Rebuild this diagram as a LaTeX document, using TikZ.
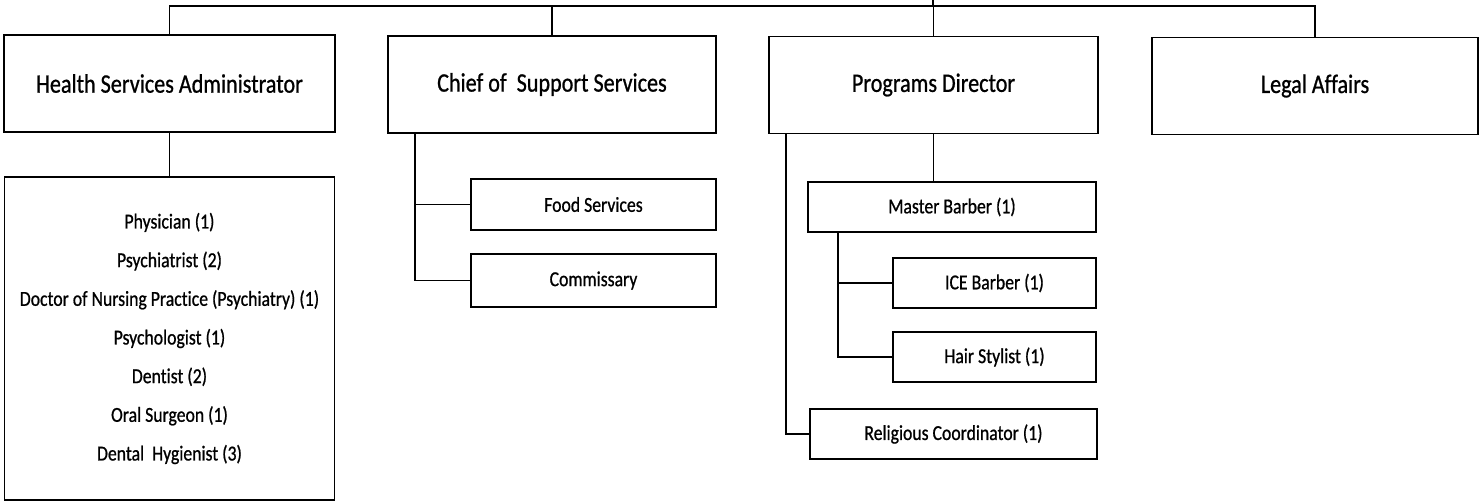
\documentclass[tikz,border=0pt]{standalone}
\usepackage{fontspec}
\setmainfont[FakeStretch=0.83,FakeBold=0.8,Ligatures={NoCommon}]{Carlito}
\usetikzlibrary{calc}
\begin{document}
\begin{tikzpicture}[x=0.75pt,y=-0.75pt,line width=1.2pt]
\useasboundingbox (0,0) rectangle (1480,503);
\tikzset{
  box/.style n args={2}{draw,line width=1.2pt,inner sep=0pt,minimum width={#1*0.75pt},minimum height={#2*0.75pt},align=center},
  big/.style={font=\fontsize{20}{24}\selectfont},
  small/.style={font=\fontsize{16}{19}\selectfont}
}
% top level boxes
\node[box={331}{97},big] (hsa) at (169.5,83.5) {Health Services Administrator};
\node[box={328}{97},big] (chief) at (552,84.5) {Chief of\ \ Support Services};
\node[box={329}{97},big] (prog) at (933.5,85) {Programs Director};
\node[box={326}{97},big] (legal) at (1315,86) {Legal Affairs};
% health staff
\node[box={330}{323},font=\fontsize{16}{29}\selectfont] (staff) at (169.5,338.5) {Physician (1)\\Psychiatrist (2)\\Doctor of Nursing Practice (Psychiatry) (1)\\Psychologist (1)\\Dentist (2)\\Oral Surgeon (1)\\Dental\ \ Hygienist (3)};
% support
\node[box={245}{51},small] (food) at (593.5,204.5) {Food Services};
\node[box={245}{53},small] (comm) at (593.5,280.5) {Commissary};
% programs
\node[box={288}{50},small] (mb) at (952,207) {Master Barber (1)};
\node[box={203}{50},small] (ice) at (994.5,283) {ICE Barber (1)};
\node[box={203}{50},small] (hair) at (994.5,357) {Hair Stylist (1)};
\node[box={287}{50},small] (rel) at (953.5,434) {Religious Coordinator (1)};
% bus
\coordinate (root) at (933,0);
\coordinate (bus) at (933,6);
\draw (root) -- (bus);
\draw (hsa.north) |- (bus) -| (legal.north);
\draw (chief.north) -- (chief.north |- bus);
\draw (prog.north) -- (prog.north |- bus);
% connectors
\draw (hsa.south) -- (staff.north);
\coordinate (cs) at ($(chief.south west)+(28,0)$);
\draw (cs) |- (food.west);
\draw (cs) |- (comm.west);
\draw (prog.south) -- (prog.south |- mb.north);
\coordinate (ps) at ($(prog.south west)+(18,0)$);
\draw (ps) |- (rel.west);
\coordinate (ms) at ($(mb.south west)+(31,0)$);
\draw (ms) |- (ice.west);
\draw (ms) |- (hair.west);
\end{tikzpicture}
\end{document}
